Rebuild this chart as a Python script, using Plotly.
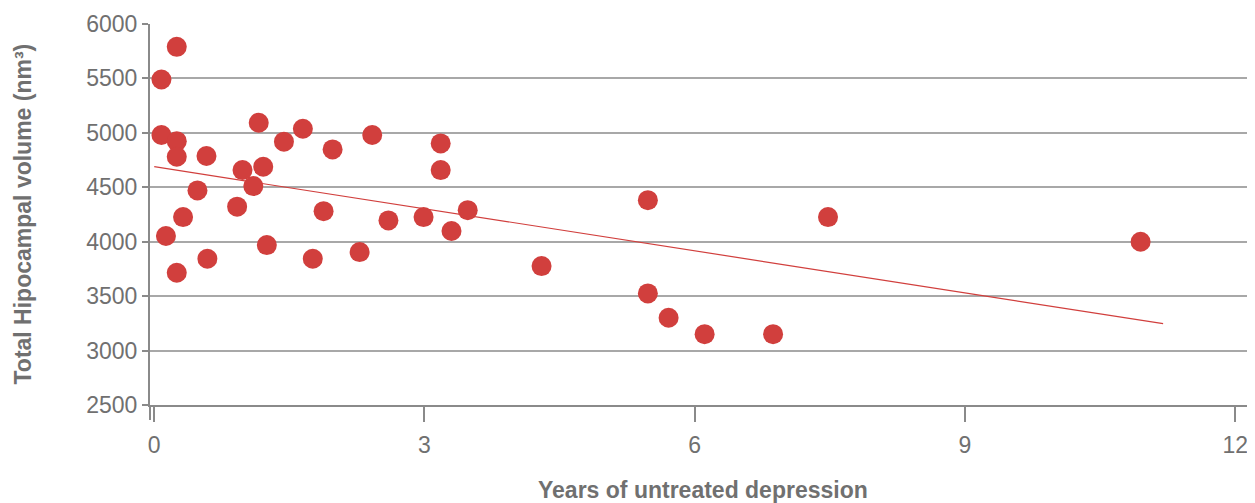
import plotly.graph_objects as go

# Data
years = [0.08, 0.25, 0.08, 0.25, 0.25, 0.58, 0.48, 0.32, 0.13, 0.25,
         0.59, 0.92, 0.98, 1.10, 1.16, 1.21, 1.25, 1.44, 1.65, 1.88,
         1.76, 1.98, 2.28, 2.42, 2.60, 2.99, 3.18, 3.18, 3.30, 3.48,
         4.30, 5.48, 5.48, 5.71, 6.11, 6.87, 7.48, 10.95]
volume = [5490, 5790, 4980, 4924, 4781, 4787, 4471, 4226, 4052, 3715,
          3844, 4322, 4658, 4511, 5093, 4689, 3969, 4919, 5038, 4281,
          3844, 4848, 3905, 4980, 4196, 4226, 4903, 4658, 4098, 4290,
          3776, 4382, 3525, 3302, 3151, 3151, 4226, 4000]

trend_x = [0, 11.2]
trend_y = [4689, 3247]

x_ticks = [0, 3, 6, 9, 12]
y_ticks = [2500, 3000, 3500, 4000, 4500, 5000, 5500, 6000]

x_title = "Years of untreated depression"
y_title = "Total Hipocampal volume (nm³)"

RED = "rgb(209,63,61)"
GRAY = "#8a8a8a"
TEXT = "#707070"

fig = go.Figure()
fig.add_trace(go.Scatter(
    x=trend_x, y=trend_y, mode="lines",
    line=dict(color=RED, width=1.2), hoverinfo="skip", showlegend=False))
fig.add_trace(go.Scatter(
    x=years, y=volume, mode="markers",
    marker=dict(color=RED, size=20, line=dict(width=0)),
    showlegend=False))

# page body has an 8px margin, so the figure is sized/offset to compensate
fig.update_layout(
    width=1247, height=495,
    margin=dict(l=142, r=0, t=16, b=98, autoexpand=False),
    paper_bgcolor="white", plot_bgcolor="white",
    font=dict(family="Liberation Sans, Arial, sans-serif", color=TEXT, size=22),
    annotations=[
        dict(text="<b>" + x_title + "</b>", xref="paper", yref="paper",
             x=0.5, y=0, yshift=-85, xanchor="center", yanchor="middle",
             showarrow=False, font=dict(size=23, color=TEXT)),
        dict(text="<b>" + y_title + "</b>", xref="paper", yref="paper",
             x=0, y=0.5, xshift=-128, xanchor="center", yanchor="middle",
             textangle=-90, showarrow=False, font=dict(size=23, color=TEXT)),
    ],
    shapes=[
        # short downward extension of the y-axis line below the x axis
        dict(type="line", xref="paper", yref="paper", ysizemode="pixel",
             yanchor=0, x0=0, x1=0, y0=0, y1=-15,
             line=dict(color=GRAY, width=2)),
    ],
)
fig.update_xaxes(
    range=[-0.047, 12.22], tickvals=x_ticks, ticktext=[str(v) for v in x_ticks],
    automargin=False,
    showgrid=False, zeroline=False,
    showline=True, linecolor=GRAY, linewidth=2,
    ticks="outside", ticklen=15, tickwidth=1.5, tickcolor=GRAY,
    ticklabelstandoff=3,
    tickfont=dict(size=23, color=TEXT),
)
fig.update_yaxes(
    range=[2500, 6000], tickvals=y_ticks, ticktext=[str(v) for v in y_ticks],
    automargin=False,
    showgrid=True, gridcolor="#a8a8a8", gridwidth=1.5, zeroline=False,
    showline=True, linecolor=GRAY, linewidth=2,
    ticks="outside", ticklen=6, tickwidth=1.5, tickcolor=GRAY,
    tickfont=dict(size=23, color=TEXT),
)

fig.write_html("out.html")
